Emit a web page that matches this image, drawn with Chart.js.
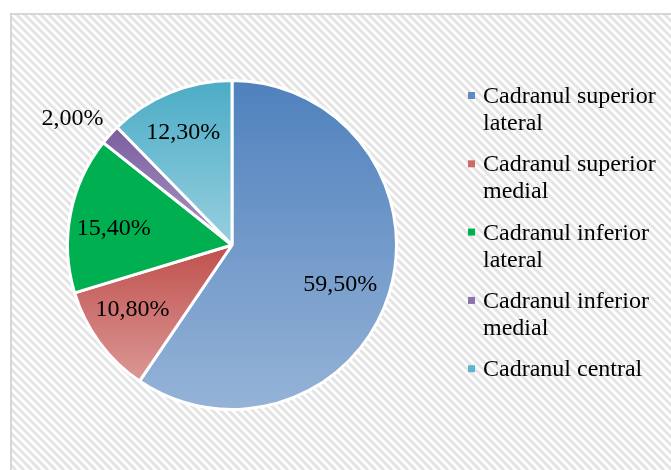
<!DOCTYPE html>
<html><head><meta charset="utf-8">
<script src="https://cdn.jsdelivr.net/npm/chart.js@4"></script>
<style>html,body{margin:0;padding:0;background:#fff}#wrap{width:671px;height:470px;position:relative}</style>
</head><body><div id="wrap"><canvas id="c" width="671" height="470"></canvas></div>
<script>
const categories = ['Cadranul superior lateral','Cadranul superior medial','Cadranul inferior lateral','Cadranul inferior medial','Cadranul central'];
const legendLines = [['Cadranul superior','lateral'],['Cadranul superior','medial'],['Cadranul inferior','lateral'],['Cadranul inferior','medial'],['Cadranul central']];
const values = [59.5, 10.8, 15.4, 2.0, 12.3];
const valueLabels = ['59,50%','10,80%','15,40%','2,00%','12,30%'];
const topColors = ['#4f81bd','#c0504d','#00b050','#7b5e9f','#4bacc6'];
const bottomColors = ['#95b3d7','#db9896','#00b050','#a898c2','#97cfdf'];
const legendColors = ['#5b8ac4','#cc6a67','#00b050','#8b72ab','#5cb6cd'];

const FONT = '"Liberation Serif","Times New Roman",serif';

const bgPlugin = {
  id: 'bg',
  beforeDraw(chart) {
    const ctx = chart.ctx, W = chart.width, H = chart.height;
    ctx.save();
    ctx.fillStyle = '#fff';
    ctx.fillRect(0, 0, W, H);
    ctx.beginPath();
    ctx.rect(10, 13, W - 10, H - 13);
    ctx.clip();
    ctx.strokeStyle = '#e4e4e4';
    ctx.lineWidth = 3;
    for (let k = -H; k < W + H; k += 8) {
      ctx.beginPath();
      ctx.moveTo(k, 0);
      ctx.lineTo(k + H, H);
      ctx.stroke();
    }
    ctx.restore();
    ctx.save();
    ctx.strokeStyle = '#d6d6d6';
    ctx.lineWidth = 2;
    ctx.strokeRect(11, 14, W, H);
    ctx.restore();
  }
};

const gradPlugin = {
  id: 'grad',
  beforeDatasetDraw(chart, args) {
    const meta = chart.getDatasetMeta(args.index);
    const ctx = chart.ctx;
    meta.data.forEach((arc, i) => {
      const p = arc.getProps(['x','y','startAngle','endAngle','outerRadius'], true);
      const ys = [p.y, p.y + Math.sin(p.startAngle) * p.outerRadius, p.y + Math.sin(p.endAngle) * p.outerRadius];
      const checks = [-Math.PI/2, Math.PI/2, 3*Math.PI/2, -3*Math.PI/2];
      checks.forEach(a => { if (a >= p.startAngle && a <= p.endAngle) ys.push(p.y + Math.sin(a) * p.outerRadius); });
      const y0 = Math.min(...ys), y1 = Math.max(...ys);
      const g = ctx.createLinearGradient(0, y0, 0, y1);
      g.addColorStop(0, topColors[i]);
      g.addColorStop(1, bottomColors[i]);
      arc.options = Object.assign({}, arc.options, {backgroundColor: g});
    });
  }
};

const labelPlugin = {
  id: 'vlabels',
  afterDatasetDraw(chart, args, opts) {
    const meta = chart.getDatasetMeta(args.index);
    const ctx = chart.ctx;
    const nudge = opts.nudge || [];
    ctx.save();
    ctx.font = '24px ' + FONT;
    ctx.fillStyle = '#000';
    ctx.textAlign = 'center';
    ctx.textBaseline = 'middle';
    meta.data.forEach((arc, i) => {
      const p = arc.getProps(['x','y','startAngle','endAngle','outerRadius'], true);
      const mid = (p.startAngle + p.endAngle) / 2;
      const f = values[i] < 5 ? 1.25 : 0.72;
      const n = nudge[i] || [0, 0];
      ctx.fillText(valueLabels[i], p.x + Math.cos(mid) * p.outerRadius * f + n[0], p.y + Math.sin(mid) * p.outerRadius * f + n[1]);
    });
    ctx.restore();
  }
};

const legendPlugin = {
  id: 'mylegend',
  afterDraw(chart) {
    const ctx = chart.ctx;
    ctx.save();
    ctx.font = '24px ' + FONT;
    ctx.fillStyle = '#000';
    ctx.textBaseline = 'alphabetic';
    ctx.textAlign = 'left';
    let y = 103;
    legendLines.forEach((lines, i) => {
      ctx.fillStyle = legendColors[i];
      ctx.fillRect(468, y - 11, 7, 7);
      ctx.fillStyle = '#000';
      lines.forEach((t, j) => ctx.fillText(t, 483, y + j * 27));
      y += 68.3;
    });
    ctx.restore();
  }
};

new Chart(document.getElementById('c'), {
  type: 'pie',
  data: {
    labels: categories,
    datasets: [{
      data: values,
      backgroundColor: topColors,
      borderColor: '#ffffff',
      borderWidth: 3
    }]
  },
  options: {
    responsive: false,
    devicePixelRatio: 1,
    animation: false,
    layout: { padding: { left: 66, right: 273, top: 79, bottom: 59 } },
    plugins: {
      legend: { display: false },
      tooltip: { enabled: false },
      vlabels: { nudge: [[-5, 5], [-4, -6], [-2, 6], [-7, 12], [-4, -3]] }
    }
  },
  plugins: [bgPlugin, gradPlugin, labelPlugin, legendPlugin]
});
</script>
</body></html>
